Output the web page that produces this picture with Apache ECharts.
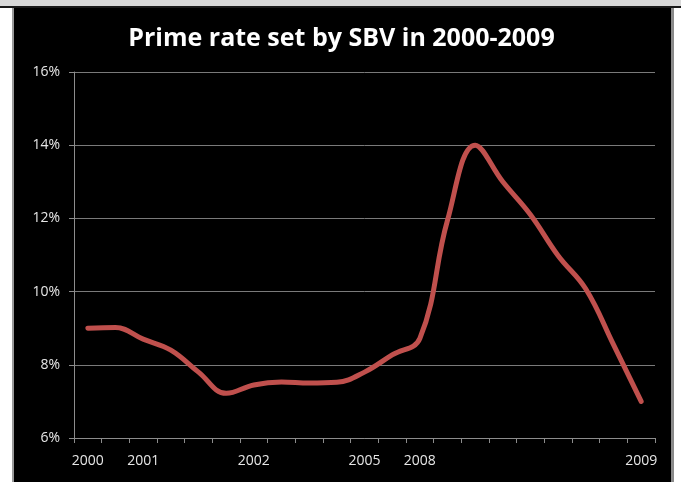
<!DOCTYPE html>
<html>
<head>
<meta charset="utf-8">
<script src="https://cdn.jsdelivr.net/npm/echarts@6/dist/echarts.min.js"></script>
<style>
  html, body { margin: 0; padding: 0; background: #ffffff; }
  .page { position: relative; width: 685px; height: 482px; overflow: hidden; }
  .page__band { position: absolute; left: 0; top: 0; width: 681px; height: 6px; background: #d9d9d9; border-bottom: 2px solid #1a1a1a; }
  .page__frame { position: absolute; left: 12px; top: 8px; width: 657px; height: 474px; border-left: 2px solid #9a9a9a; border-right: 3px solid #8a8a8a; background: #000; }
  #chart { position: absolute; left: 14px; top: 8px; width: 655px; height: 474px; }
</style>
</head>
<body>
<div class="page">
  <div class="page__band"></div>
  <div class="page__frame"></div>
  <div id="chart"></div>
</div>
<script>
var TITLE = 'Prime rate set by SBV in 2000-2009'
var categories = ['2000', '', '2001', '', '', '', '2002', '', '', '', '2005', '', '2008', '', '', '', '', '', '', '', '2009']
var primeRate = [9.0, 9.02, 8.7, 8.4, 7.8, 7.22, 7.45, 7.53, 7.5, 7.52, 7.8, 8.27, 8.72, 11.95, 14.0, 13.0, 12.1, 10.98, 10.07, 8.55, 7.0]
var yTicks = { min: 6, max: 16, interval: 2 }

var TEXT_COLOR = '#e6e6e6'
var AXIS_LINE_COLOR = '#8c8c8c'
var SPLIT_LINE_COLOR = '#7a7a7a'
var FONT = "'Open Sans', 'Liberation Sans', sans-serif"

var chart = echarts.init(document.getElementById('chart'))
chart.setOption({
  backgroundColor: '#000',
  animation: false,
  title: {
    text: TITLE,
    left: 'center',
    top: 13,
    textStyle: { color: '#ffffff', fontSize: 25, fontWeight: 'bold', fontFamily: FONT }
  },
  grid: {
    left: 60,
    right: 14,
    top: 64,
    bottom: 44
  },
  xAxis: {
    type: 'category',
    data: categories,
    boundaryGap: true,
    axisLine: { lineStyle: { color: AXIS_LINE_COLOR, width: 1 } },
    axisTick: { show: true, interval: 0, length: 5, lineStyle: { color: AXIS_LINE_COLOR } },
    axisLabel: { interval: 0, color: TEXT_COLOR, fontSize: 14, fontFamily: FONT, margin: 16 }
  },
  yAxis: {
    type: 'value',
    min: yTicks.min,
    max: yTicks.max,
    interval: yTicks.interval,
    axisLine: { show: true, lineStyle: { color: AXIS_LINE_COLOR } },
    axisTick: { show: true, length: 5, lineStyle: { color: AXIS_LINE_COLOR } },
    axisLabel: { color: TEXT_COLOR, fontSize: 14, fontFamily: FONT, margin: 14, formatter: '{value}%' },
    splitLine: { lineStyle: { color: SPLIT_LINE_COLOR, width: 1 } }
  },
  series: [
    {
      type: 'line',
      data: primeRate,
      smooth: 0.4,
      symbol: 'none',
      lineStyle: { color: '#c0504d', width: 5, cap: 'round', join: 'round' },
      itemStyle: { color: '#c0504d' }
    }
  ]
})
</script>
</body>
</html>
